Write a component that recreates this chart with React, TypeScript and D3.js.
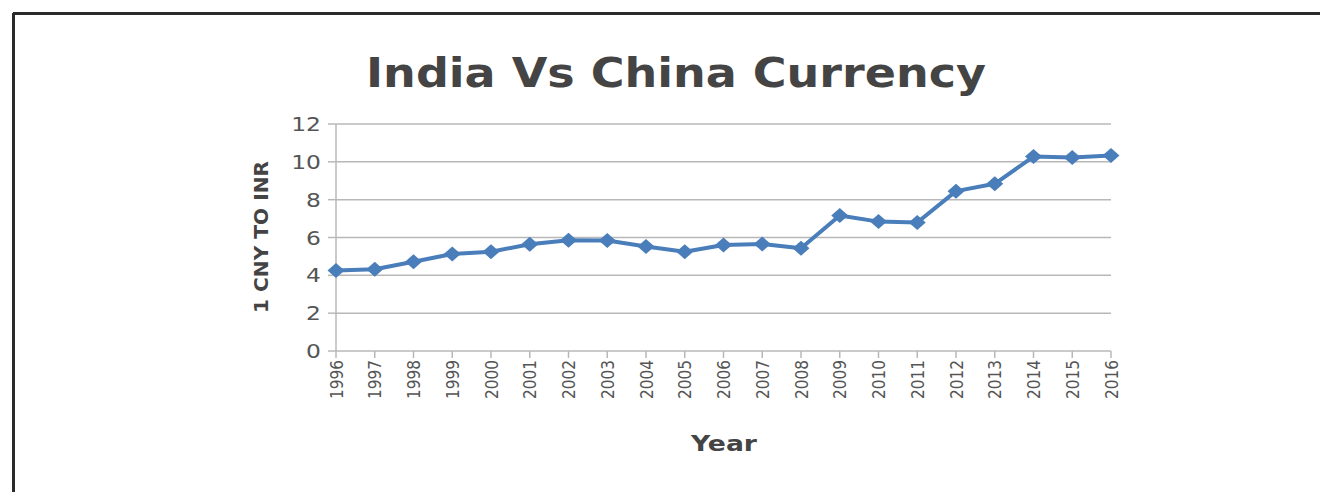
import React from "react";
import * as d3 from "d3";

const years = ["1996","1997","1998","1999","2000","2001","2002","2003","2004","2005","2006","2007","2008","2009","2010","2011","2012","2013","2014","2015","2016"];
const rates = [4.25,4.32,4.72,5.13,5.25,5.64,5.86,5.84,5.52,5.25,5.6,5.66,5.43,7.16,6.84,6.79,8.45,8.84,10.28,10.23,10.33];
const yTicks = [0,2,4,6,8,10,12];

export default function App() {
  const W = 1320, H = 492;
  const left = 336, right = 1111, top = 124, bottom = 351;
  const x = d3.scalePoint<string>().domain(years).range([left, right]);
  const y = d3.scaleLinear().domain([0, 12]).range([bottom, top]);
  const line = d3.line<number>().x((_, i) => x(years[i])!).y(d => y(d));
  const font = "DejaVu Sans, sans-serif";
  const diamond = "M0,-7.5L8.5,0L0,7.5L-8.5,0Z";
  return (
    <svg width={W} height={H} style={{ position: "absolute", left: 0, top: 0 }}>
      <rect x={0} y={0} width={W} height={H} fill="#fff" />
      <line x1={13} y1={13.5} x2={W} y2={13.5} stroke="#2a2a2a" strokeWidth={3} />
      <line x1={13.5} y1={13} x2={13.5} y2={H} stroke="#2a2a2a" strokeWidth={3} />
      <text x={676} y={87} textAnchor="middle" fontFamily={font} fontWeight="bold" fontSize={40} fill="#444" textLength={620} lengthAdjust="spacingAndGlyphs">India Vs China Currency</text>
      {yTicks.map(t => (
        <g key={t}>
          <line x1={left} x2={right} y1={y(t)} y2={y(t)} stroke="#b8b8b8" strokeWidth={1.5} />
          <line x1={left - 8} x2={left} y1={y(t)} y2={y(t)} stroke="#b8b8b8" strokeWidth={1.5} />
          <text transform={`translate(321,${y(t) + 7}) scale(1.2,1)`} textAnchor="end" fontFamily={font} fontSize={19.5} fill="#555">{t}</text>
        </g>
      ))}
      <line x1={left} x2={left} y1={top} y2={bottom} stroke="#b8b8b8" strokeWidth={1.5} />
      {years.map(yr => (
        <g key={yr}>
          <line x1={x(yr)} x2={x(yr)} y1={bottom} y2={bottom + 7} stroke="#b8b8b8" strokeWidth={1.5} />
          <text transform={`translate(${x(yr)! + 6.5},${bottom + 9}) rotate(-90)`} textAnchor="end" fontFamily={font} fontSize={17.5} fill="#555" textLength={39} lengthAdjust="spacingAndGlyphs">{yr}</text>
        </g>
      ))}
      <text x={724} y={451} textAnchor="middle" fontFamily={font} fontWeight="bold" fontSize={21} fill="#444" textLength={66} lengthAdjust="spacingAndGlyphs">Year</text>
      <text transform={`translate(268,237) rotate(-90)`} textAnchor="middle" fontFamily={font} fontWeight="bold" fontSize={19} fill="#444" textLength={152} lengthAdjust="spacingAndGlyphs">1 CNY TO INR</text>
      <path d={line(rates) || ""} fill="none" stroke="#4a7ebb" strokeWidth={4} strokeLinejoin="round" />
      {rates.map((r, i) => (
        <path key={i} d={diamond} transform={`translate(${x(years[i])},${y(r)})`} fill="#4a7ebb" />
      ))}
    </svg>
  );
}
